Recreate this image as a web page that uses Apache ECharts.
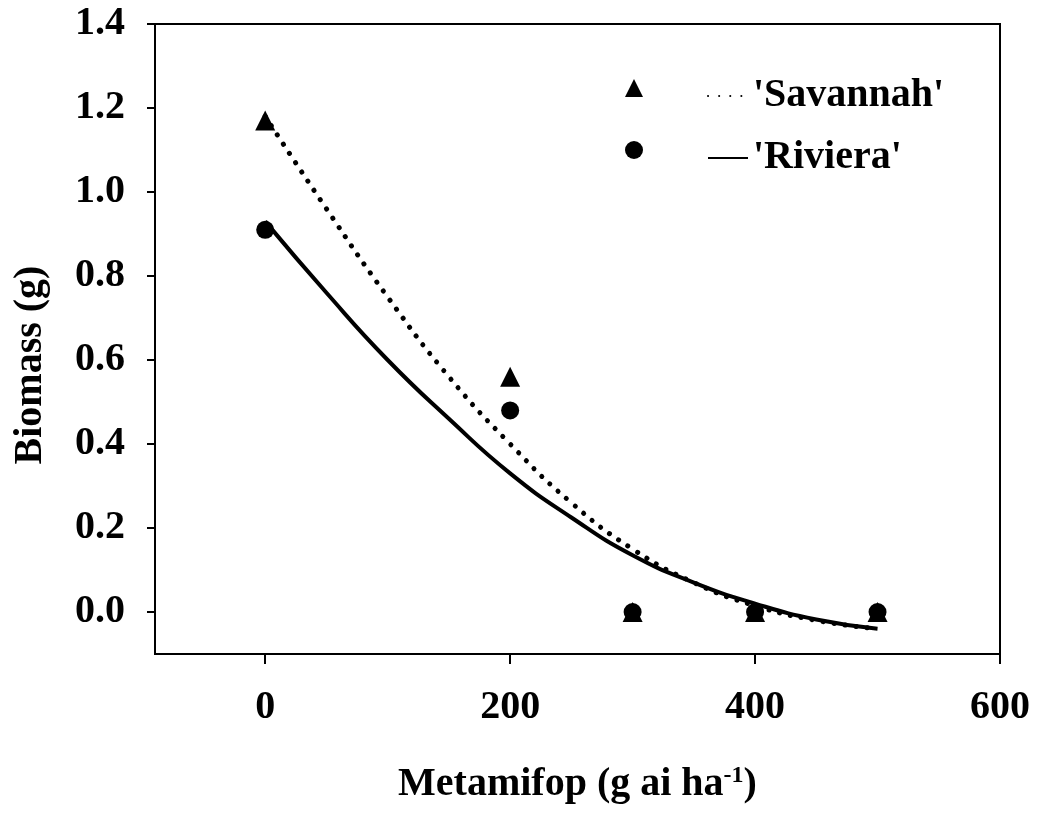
<!DOCTYPE html>
<html>
<head>
<meta charset="utf-8">
<script src="https://cdn.jsdelivr.net/npm/echarts@6/dist/echarts.min.js"></script>
<style>
html,body{margin:0;padding:0;background:#fff;}
#chart{width:1037px;height:821px;}
</style>
</head>
<body>
<div id="chart"></div>
<script>
// ---- data ----
const xTicks = [0, 200, 400, 600];
const yTicks = [0, 0.2, 0.4, 0.6, 0.8, 1.0, 1.2, 1.4];
const doses = [0, 200, 300, 400, 500];
const savannahObs = [1.17, 0.56, 0, 0, 0];
const rivieraObs = [0.91, 0.48, 0, 0, 0];
const fitX = [0, 50, 100, 150, 200, 250, 300, 350, 400, 450, 500];
const savannahFit = [1.18, 0.96, 0.75, 0.56, 0.40, 0.26, 0.15, 0.07, 0.015, -0.02, -0.04];
const rivieraFit = [0.93, 0.76, 0.60, 0.46, 0.33, 0.225, 0.135, 0.07, 0.02, -0.018, -0.04];
const seriesNames = ["'Savannah'", "'Riviera'"];
const xTitle = 'Metamifop (g ai ha{sup|-1})';
const yTitle = 'Biomass (g)';

const FONT = '"Liberation Serif", "Times New Roman", serif';
const pair = (xs, ys) => xs.map((x, i) => [x, ys[i]]);

const chart = echarts.init(document.getElementById('chart'), null, {renderer: 'canvas'});
chart.setOption({
  backgroundColor: '#ffffff',
  animation: false,
  grid: {
    left: 155, right: 37, top: 24, bottom: 167,
    show: true, borderColor: '#000', borderWidth: 2,
    containLabel: false, outerBoundsMode: 'none'
  },
  legend: [
    {
      data: [{name: seriesNames[0], icon: 'triangle'}, {name: seriesNames[1], icon: 'circle'}],
      orient: 'vertical', left: 625, top: 68, padding: 0,
      itemWidth: 18, itemHeight: 18, itemGap: 22,
      formatter: () => ' ',
      selectedMode: false,
      itemStyle: {color: '#000', opacity: 1},
      textStyle: {fontSize: 40, lineHeight: 40, fontFamily: FONT}
    },
    {
      data: [seriesNames[0] + ' fit', seriesNames[1] + ' fit'],
      orient: 'vertical', left: 707, top: 76, padding: 0,
      itemWidth: 40, itemHeight: 16, itemGap: 22,
      formatter: n => n.replace(' fit', ''),
      selectedMode: false,
      itemStyle: {opacity: 0},
      textStyle: {fontSize: 40, lineHeight: 40, fontFamily: FONT, fontWeight: 'bold', color: '#000'}
    }
  ],
  xAxis: {
    type: 'value', min: -90, max: 600,
    name: xTitle, nameLocation: 'middle', nameGap: 110,
    nameTextStyle: {
      fontSize: 40, fontWeight: 'bold', fontFamily: FONT, color: '#000',
      rich: {sup: {fontSize: 24, fontWeight: 'bold', fontFamily: FONT, color: '#000', verticalAlign: 'top', padding: [0, 0, 18, 0]}}
    },
    axisLine: {onZero: false, lineStyle: {color: '#000', width: 2}},
    axisTick: {show: true, inside: false, length: 10, lineStyle: {color: '#000', width: 2}, customValues: xTicks},
    axisLabel: {customValues: xTicks, margin: 34, fontSize: 40, fontWeight: 'bold', fontFamily: FONT, color: '#000'},
    splitLine: {show: false}
  },
  yAxis: {
    type: 'value', min: -0.1, max: 1.4,
    name: yTitle, nameLocation: 'middle', nameGap: 104, nameRotate: 90,
    nameTextStyle: {fontSize: 40, fontWeight: 'bold', fontFamily: FONT, color: '#000', padding: [0, 52, 0, 0]},
    axisLine: {onZero: false, lineStyle: {color: '#000', width: 2}},
    axisTick: {show: true, inside: false, length: 8, lineStyle: {color: '#000', width: 2}, customValues: yTicks},
    axisLabel: {customValues: yTicks, margin: 30, fontSize: 40, fontWeight: 'bold', fontFamily: FONT, color: '#000',
      formatter: v => v.toFixed(1)},
    splitLine: {show: false}
  },
  series: [
    {
      name: seriesNames[0] + ' fit', type: 'line', data: pair(fitX, savannahFit),
      smooth: true, symbol: 'none', showSymbol: false, z: 2,
      lineStyle: {color: '#000', width: 5, type: [0.1, 11], cap: 'round'},
      itemStyle: {color: '#000'}
    },
    {
      name: seriesNames[1] + ' fit', type: 'line', data: pair(fitX, rivieraFit),
      smooth: true, symbol: 'none', showSymbol: false, z: 2,
      lineStyle: {color: '#000', width: 4, type: 'solid'},
      itemStyle: {color: '#000'}
    },
    {
      name: seriesNames[0], type: 'scatter', data: pair(doses, savannahObs),
      symbol: 'triangle', symbolSize: 20, z: 3,
      itemStyle: {color: '#000', opacity: 1}
    },
    {
      name: seriesNames[1], type: 'scatter', data: pair(doses, rivieraObs),
      symbol: 'circle', symbolSize: 18, z: 3,
      itemStyle: {color: '#000', opacity: 1}
    }
  ]
});
</script>
</body>
</html>
